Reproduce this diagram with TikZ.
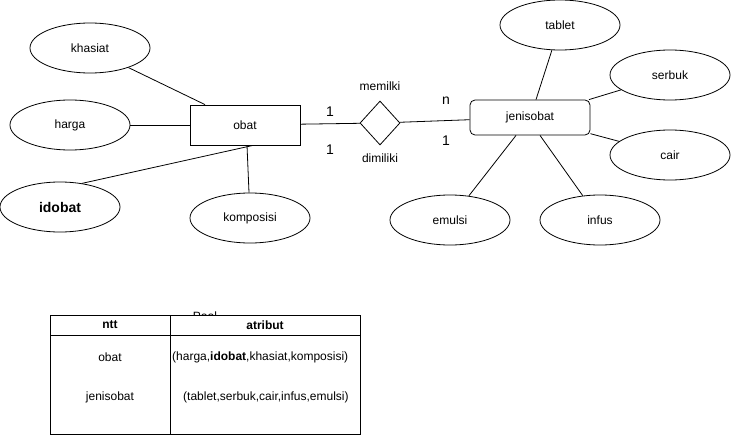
\documentclass[tikz,border=0pt]{standalone}
\usepackage{fontspec}
\setmainfont{Liberation Sans}
\usetikzlibrary{positioning,shapes.geometric,calc}

\begin{document}
\begin{tikzpicture}[
    x=1pt, y=-1pt,
    attrbox/.style={ellipse, draw, line width=0.8pt, minimum width=120pt, minimum height=50pt, inner sep=0pt, font=\fontsize{12}{14}\selectfont},
    entbox/.style={rectangle, draw, line width=0.8pt, minimum width=110pt, minimum height=40pt, inner sep=0pt, font=\fontsize{12}{14}\selectfont},
    relbox/.style={diamond, draw, line width=0.8pt, minimum width=40pt, minimum height=44pt, inner sep=0pt},
    conn/.style={line width=0.8pt},
    txt/.style={font=\fontsize{12}{14}\selectfont, inner sep=0pt},
    card/.style={font=\fontsize{14}{16}\selectfont, inner sep=0pt},
]
\useasboundingbox (0,0) rectangle (731,436);
% entitas obat dan atributnya
\node[entbox] (obat) at (245,125) {obat};
\node[attrbox] (khasiat) at (90,48) {khasiat};
\node[attrbox] (harga) at (70,125) {harga};
\node[attrbox, font=\fontsize{14}{16}\selectfont\bfseries] (idobat) at (60,207) {idobat};
\node[attrbox] (komposisi) at (250,218) {komposisi};
\draw[conn] (khasiat.-27) -- ([xshift=-40pt]obat.north);
\draw[conn] (harga) -- (obat);
\draw[conn] (idobat.47) -- ([xshift=8pt]obat.south);
\draw[conn] ([xshift=-1pt]komposisi.north) -- ([xshift=2pt]obat.south);
% relasi
\node[relbox] (rel) at (380,123) {};
\node[txt, above=10pt of rel] (memilki) {memilki};
\node[txt, below=8pt of rel] (dimiliki) {dimiliki};
\node[card] (c1a) at (330,112) {1};
\node[card] (c1b) at (330,150) {1};
\node[card] (cn) at (446,101) {n};
\node[card] (c1c) at (446,141) {1};
% entitas jenisobat dan atributnya
\node[entbox, rounded corners=5pt, minimum width=120pt, minimum height=35pt] (jenisobat) at (530,117.5) {jenisobat};
\node[attrbox] (tablet) at (560,25) {tablet};
\node[attrbox] (serbuk) at (670,75) {serbuk};
\node[attrbox] (cair) at (670,155) {cair};
\node[attrbox] (emulsi) at (450,220) {emulsi};
\node[attrbox] (infus) at (600,220) {infus};
\draw[conn] (obat) -- (rel);
\draw[conn] (rel) -- (jenisobat);
\draw[conn] (tablet) -- ([xshift=6pt]jenisobat.north);
\draw[conn] (serbuk) -- (jenisobat);
\draw[conn] (cair) -- (jenisobat);
\draw[conn] (emulsi) -- (jenisobat);
\draw[conn] (infus) -- ([xshift=10pt]jenisobat.south);
% tabel
\node[txt] (pool) at (205,316) {Pool};
\draw[conn, fill=white] (50,315) rectangle (360,335);
\draw[conn] (50,335) rectangle (360,434.5);
\draw[conn] (170,315) -- (170,434.5);
\node[txt, font=\fontsize{12}{14}\selectfont\bfseries] (hntt) at (110,325) {ntt};
\node[txt, font=\fontsize{12}{14}\selectfont\bfseries] (hatribut) at (265,325) {atribut};
\node[txt] (robat) at (110,357) {obat};
\node[txt, anchor=west] (aobat) at (172,357) {(harga,\textbf{idobat},khasiat,komposisi)};
\node[txt] (rjenis) at (110,397) {jenisobat};
\node[txt, anchor=west] (ajenis) at (183,397) {(tablet,serbuk,cair,infus,emulsi)};
\end{tikzpicture}
\end{document}
